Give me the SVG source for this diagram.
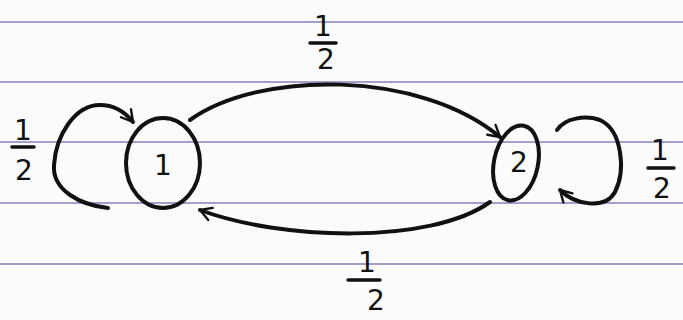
<svg xmlns="http://www.w3.org/2000/svg" width="683" height="320" viewBox="0 0 683 320">
<defs>
<style>
.rule{stroke:#8c88c4;stroke-width:2;opacity:0.8}
.ink{fill:none;stroke:#111;stroke-width:4;stroke-linecap:round;stroke-linejoin:round}
.lbl{font-family:"DejaVu Sans","Liberation Sans",sans-serif;font-size:28px;fill:#111;text-anchor:middle}
.bar{stroke:#111;stroke-width:3.5;stroke-linecap:round}
</style>
<marker id="ah" viewBox="0 0 20 20" refX="16" refY="10" markerWidth="16" markerHeight="16" markerUnits="userSpaceOnUse" orient="auto">
<path d="M2,2 L16,10 L2,18" fill="none" stroke="#111" stroke-width="3" stroke-linecap="round" stroke-linejoin="round"/>
</marker>
</defs>
<rect width="683" height="320" fill="#fbfbfb"/>
<g id="paper">
<line class="rule" x1="0" y1="22" x2="683" y2="22"/>
<line class="rule" x1="0" y1="82" x2="683" y2="82"/>
<line class="rule" x1="0" y1="142" x2="683" y2="142"/>
<line class="rule" x1="0" y1="203" x2="683" y2="203"/>
<line class="rule" x1="0" y1="264" x2="683" y2="264"/>
</g>
<g id="connectors">
<path class="ink" d="M108,208 C80,205 52,190 54,165 C56,135 75,105 100,105 C115,105 125,112 133,122" marker-end="url(#ah)"/>
<path class="ink" d="M190,120 C260,70 420,70 500,137" marker-end="url(#ah)"/>
<path class="ink" d="M490,202 C430,245 280,240 200,210" marker-end="url(#ah)"/>
<path class="ink" d="M557,130 C565,118 585,115 600,120 C622,130 626,170 615,192 C605,210 575,205 560,190" marker-end="url(#ah)"/>
</g>
<g id="node1">
<ellipse class="ink" cx="163" cy="163" rx="37" ry="45"/>
<text class="lbl" x="163" y="175">1</text>
</g>
<g id="node2">
<ellipse class="ink" cx="516" cy="163" rx="22" ry="38" transform="rotate(12 516 163)"/>
<text class="lbl" x="519" y="172">2</text>
</g>
<g id="labels">
<text class="lbl" x="23" y="140">1</text><line class="bar" x1="12" y1="147" x2="34" y2="147"/><text class="lbl" x="24" y="180">2</text>
<text class="lbl" x="323" y="36">1</text><line class="bar" x1="310" y1="43" x2="336" y2="43"/><text class="lbl" x="326" y="69">2</text>
<text class="lbl" x="367" y="272">1</text><line class="bar" x1="348" y1="280" x2="380" y2="280"/><text class="lbl" x="376" y="310">2</text>
<text class="lbl" x="660" y="160">1</text><line class="bar" x1="648" y1="168" x2="674" y2="168"/><text class="lbl" x="662" y="198">2</text>
</g>
</svg>
